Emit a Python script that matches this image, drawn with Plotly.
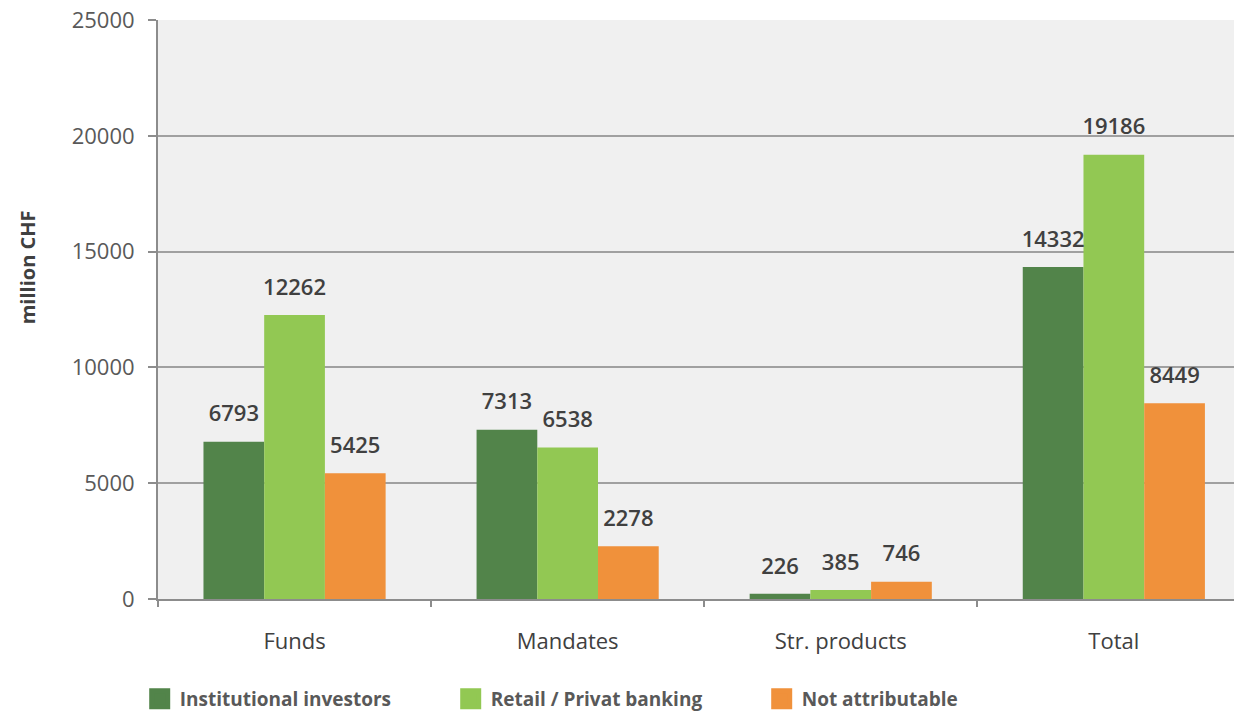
import plotly.graph_objects as go

categories = ["Funds", "Mandates", "Str. products", "Total"]
institutional = [6793, 7313, 226, 14332]
retail = [12262, 6538, 385, 19186]
not_attr = [5425, 2278, 746, 8449]
series_names = ["Institutional investors", "Retail / Privat banking", "Not attributable"]
colors = ["#52844A", "#92C853", "#F0913B"]
y_ticks = [0, 5000, 10000, 15000, 20000, 25000]

FONT = "Open Sans"
fig = go.Figure()
all_series = [institutional, retail, not_attr]
for i, (name, vals, col) in enumerate(zip(series_names, all_series, colors)):
    fig.add_trace(go.Bar(x=categories, y=vals, name=name, marker=dict(color=col, line=dict(width=0)),
                         showlegend=False, offsetgroup=f"g{i}", hoverinfo="x+y"))
for i, (name, vals, col) in enumerate(zip(series_names, all_series, colors)):
    fig.add_trace(go.Scatter(x=categories, y=vals, mode="markers+text", text=[str(v) for v in vals],
                             textposition="top center", marker=dict(size=22, opacity=0, color=col),
                             textfont=dict(family=FONT, size=22, color="#404040", weight=600),
                             showlegend=False, offsetgroup=f"g{i}", cliponaxis=False, hoverinfo="skip"))
for i, (name, col) in enumerate(zip(series_names, colors)):
    fig.add_trace(go.Scatter(x=[None], y=[None], mode="markers", name=name, offsetgroup=f"g{i}",
                             marker=dict(symbol="square", size=16, color=col, line=dict(color=col, width=5))))

fig.update_layout(
    width=1234, height=714,
    margin=dict(l=158, r=0, t=20, b=115, autoexpand=False),
    paper_bgcolor="white", plot_bgcolor="#F0F0F0",
    barmode="group", bargap=0.333, bargroupgap=0,
    scattermode="group", scattergap=0.333,
    font=dict(family=FONT, color="#595959"),
    showlegend=True,
    legend=dict(orientation="h", x=-0.017, xanchor="left", y=-0.1727, yanchor="middle",
                entrywidth=266, entrywidthmode="pixels",
                font=dict(family=FONT, size=19, color="#595959", weight="bold"),
                bgcolor="rgba(0,0,0,0)", itemclick=False),
    xaxis=dict(range=[-0.5, 3.44], showgrid=False, showline=True, linecolor="#8C8C8C", linewidth=2,
               ticks="outside", tickson="boundaries", ticklen=6, tickcolor="#8C8C8C", tickwidth=2,
               tickfont=dict(family=FONT, size=22, color="#404040"), ticklabelstandoff=22,
               automargin=False),
    yaxis=dict(range=[0, 25000], tickvals=y_ticks, tickformat="d", showgrid=True, gridcolor="#A0A0A0", gridwidth=1.5,
               showline=True, linecolor="#8C8C8C", linewidth=2, zeroline=False,
               ticks="outside", ticklen=8, tickcolor="#8C8C8C", tickwidth=2, ticklabeloverflow="allow",
               tickfont=dict(family=FONT, size=22, color="#595959"), ticklabelstandoff=9,
               automargin=False),
    annotations=[dict(text="million CHF", textangle=-90, xref="paper", yref="paper",
                      x=-0.1217, y=0.573, xanchor="center", yanchor="middle", showarrow=False,
                      font=dict(family=FONT, size=20, color="#404040", weight="bold"))],
)
fig.write_html("out.html", config={"displayModeBar": False},
               post_script="document.body.style.margin='0';document.body.style.overflow='hidden';")
